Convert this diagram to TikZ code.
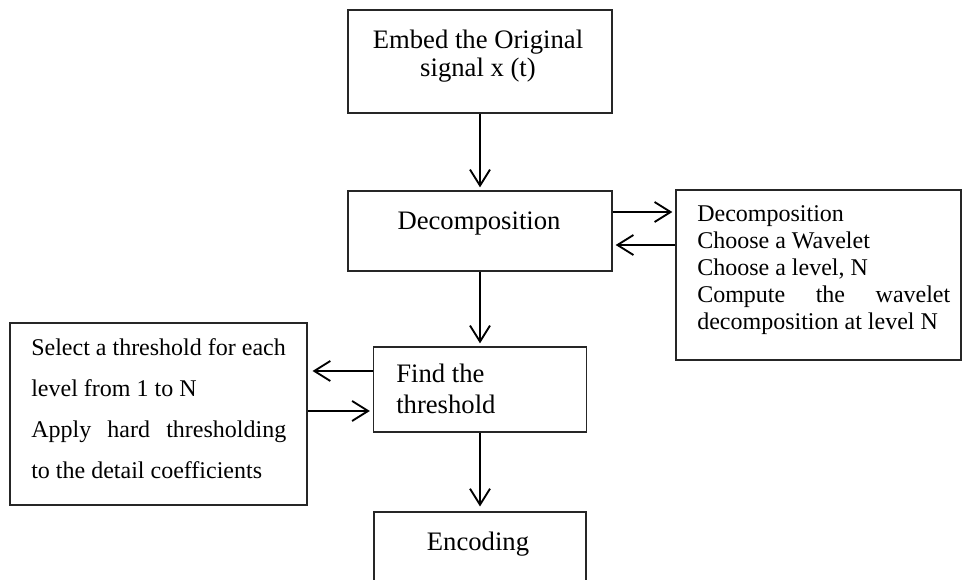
\documentclass[tikz,border=0pt]{standalone}
\usepackage{fontspec}
\setmainfont{Liberation Serif}
\usetikzlibrary{arrows.meta}

\tikzset{
  box/.style={draw=black!85, line width=0.9pt, rectangle, inner sep=0pt},
  flow/.style={line width=1.4pt, -{Straight Barb[length=12pt,width=15pt,line width=1.4pt]}, shorten >=2.3pt},
  bigtext/.style={inner sep=0pt, font=\fontsize{20}{21}\selectfont},
  smalltext/.style={inner sep=0pt, font=\fontsize{18}{20.25}\selectfont},
}

\begin{document}
\begin{tikzpicture}[x=0.75pt, y=-0.75pt]
  \useasboundingbox (0,0) rectangle (962,579);
  \clip (0,0) rectangle (962,579);

  % main column of steps
  \node[box, minimum width=198pt, minimum height=77.25pt] (embed) at (480,61.5) {};
  \node[box, minimum width=198pt, minimum height=60pt] (decomp) at (480,231) {};
  \node[box, minimum width=159.75pt, minimum height=63.75pt] (find) at (480,389.5) {};
  \node[box, minimum width=159pt, minimum height=60pt] (enc) at (480,552) {};

  % side boxes
  \node[box, minimum width=213.75pt, minimum height=127.5pt] (wave) at (818.5,275) {};
  \node[box, minimum width=222.75pt, minimum height=136.5pt] (thr) at (158.5,414) {};

  % texts
  \node[bigtext, align=center, anchor=north] (embedtxt) at (478,29.5)
    {Embed the Original\\signal x (t)};
  \node[bigtext, anchor=base] (decomptxt) at (479,229.3) {Decomposition};
  \node[bigtext, font=\fontsize{20}{23.25}\selectfont, align=left, anchor=north west]
    (findtxt) at (396,363.8) {Find the\\threshold};
  \node[bigtext, anchor=base] (enctxt) at (478,550) {Encoding};

  \node[smalltext, align=left, anchor=north west] (wavetxt) at (697,205.3)
    {Decomposition\\
     Choose a Wavelet\\
     Choose a level, N\\
     \makebox[189.75pt][s]{Compute the wavelet}\\
     decomposition at level N};

  \node[smalltext, font=\fontsize{18}{30.75}\selectfont, align=left,
    anchor=north west] (thrtxt) at (31,338.6)
    {Select a threshold for each\\
     level from 1 to N\\
     \makebox[191.25pt][s]{Apply hard thresholding}\\
     to the detail coefficients};

  % connectors
  \draw[flow] (embed.south) -- (decomp.north);
  \draw[flow] (decomp.south) -- (decomp.south |- find.north);
  \draw[flow, shorten >=3.7pt] (find.south) -- (find.south |- enc.north);
  \draw[flow] ([yshift=14.25pt]decomp.east) -- ([yshift=14.25pt]decomp.east -| wave.west);
  \draw[flow] ([yshift=-10.5pt]wave.west |- decomp.east) -- ([yshift=-10.5pt]decomp.east);
  \draw[flow, shorten >=3.7pt] ([yshift=13.9pt]find.west) -- ([yshift=13.9pt]find.west -| thr.east);
  \draw[flow] ([yshift=-16.1pt]thr.east |- find.west) -- ([yshift=-16.1pt]find.west);
\end{tikzpicture}
\end{document}
